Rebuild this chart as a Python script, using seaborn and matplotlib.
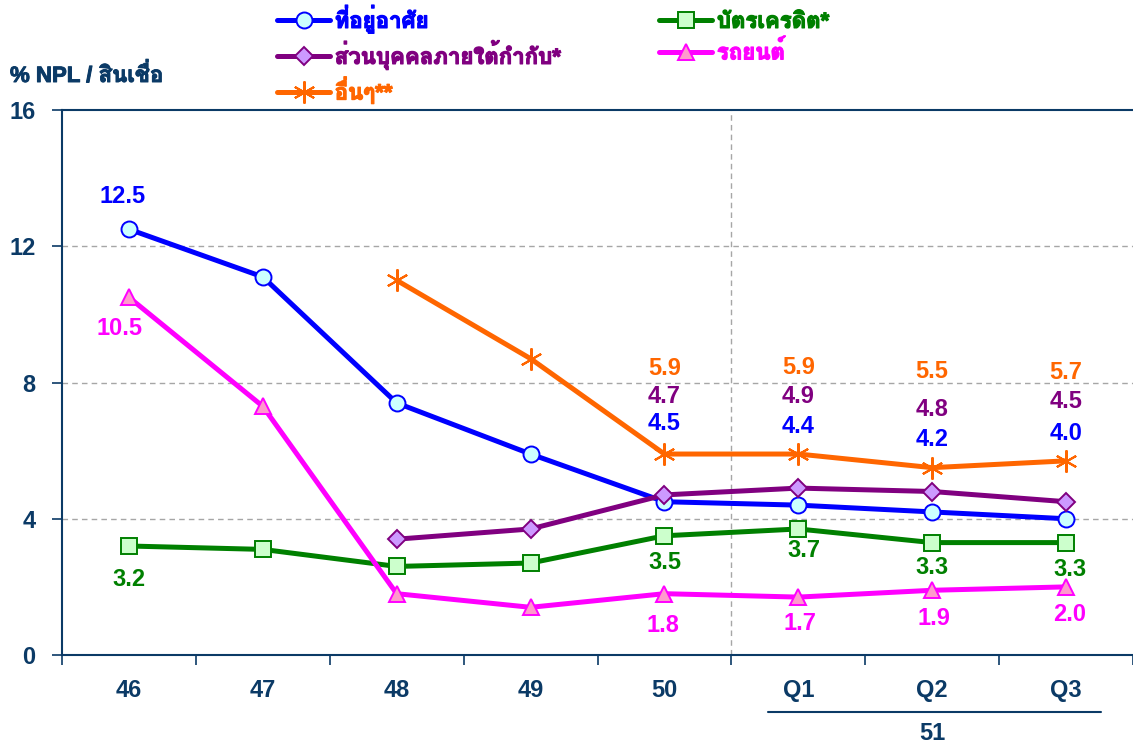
import matplotlib
matplotlib.use("Agg")
import matplotlib.pyplot as plt
import matplotlib.transforms as mtransforms
import matplotlib.patheffects as pe
from matplotlib import font_manager
from matplotlib.ft2font import FT2Font
import numpy as np
import pandas as pd
import seaborn as sns

# ---------------- data ----------------
categories = ["46", "47", "48", "49", "50", "Q1", "Q2", "Q3"]
housing = [12.5, 11.1, 7.4, 5.9, 4.5, 4.4, 4.2, 4.0]
credit_card = [3.2, 3.1, 2.6, 2.7, 3.5, 3.7, 3.3, 3.3]
personal = [np.nan, np.nan, 3.4, 3.7, 4.7, 4.9, 4.8, 4.5]
auto = [10.5, 7.3, 1.8, 1.4, 1.8, 1.7, 1.9, 2.0]
other = [np.nan, np.nan, 11.0, 8.7, 5.9, 5.9, 5.5, 5.7]
y_ticks = [0, 4, 8, 12, 16]
series_names = ["ที่อยู่อาศัย", "บัตรเครดิต*", "ส่วนบุคคลภายใต้กำกับ*", "รถยนต์", "อื่นๆ**"]
year_group_label = "51"
y_title = "% NPL / สินเชื่อ"

# ---------------- font with Thai glyphs (prefer one with a bold face) ----------------
thai_fams = {}
for f in font_manager.fontManager.ttflist:
    try:
        cm = FT2Font(f.fname).get_charmap()
        if 0x0E17 in cm and 0x0E2A in cm:
            w = f.weight if isinstance(f.weight, int) else (700 if "bold" in str(f.weight).lower() else 400)
            thai_fams.setdefault(f.name, set()).add(w)
    except Exception:
        pass
thai_family = None
for name, ws in thai_fams.items():
    if any(w >= 600 for w in ws):
        thai_family = name
        break
if thai_family is None and thai_fams:
    thai_family = next(iter(thai_fams))
sns.set_theme(style="white")
fams = ([thai_family] if thai_family else []) + ["DejaVu Sans"]
plt.rcParams["font.family"] = ["Liberation Sans"] + fams
plt.rcParams["font.weight"] = "bold"

navy = "#0B3A66"

fig = plt.figure(figsize=(11.33, 7.44), dpi=100)
ax = fig.add_axes([62 / 1133, 1 - 655 / 744, 1 - 62 / 1133, (655 - 110) / 744])

xs = np.arange(len(categories))
styles = [
    # name, values, line colour, marker, face, edge
    (series_names[0], housing, "#0000FF", "o", "#CCFFFF", "#0000FF"),
    (series_names[1], credit_card, "#008000", "s", "#CCFFCC", "#008000"),
    (series_names[2], personal, "#800080", "D", "#CC99FF", "#800080"),
    (series_names[3], auto, "#FF00FF", "^", "#FF99CC", "#FF00FF"),
    (series_names[4], other, "#FF6600", (6, 2, 0), "#FF6600", "#FF6600"),
]
sizes = {"o": 11.5, "s": 11, "D": 9.5, "^": 12, (6, 2, 0): 16}
handles = {}
for name, vals, col, mk, fc, ec in styles:
    df = pd.DataFrame({"x": xs, "y": vals})
    sns.lineplot(data=df, x="x", y="y", ax=ax, color=col, linewidth=3.6,
                 marker=mk, markersize=sizes[mk], markerfacecolor=fc,
                 markeredgecolor=ec, markeredgewidth=1.4 if mk != (6, 2, 0) else 1.5,
                 label=name, sort=False, zorder=3)
    handles[name] = ax.get_lines()[-1]

# ---------------- data labels ----------------
# (series values, colour, indices, vertical pixel offsets, horizontal pixel offsets)
label_specs = [
    (housing, "#0000FF", [0, 4, 5, 6, 7], [33, 78, 79, 72, 85], [-6, 0, 0, 0, 0]),
    (personal, "#800080", [4, 5, 6, 7], [98, 92, 82, 100], [0, 0, 0, 0]),
    (other, "#FF6600", [4, 5, 6, 7], [86, 87, 96, 88], [0, 0, 0, 0]),
    (credit_card, "#008000", [0, 4, 5, 6, 7], [-33, -27, -22, -25, -27], [0, 0, 6, 0, 4]),
    (auto, "#FF00FF", [0, 4, 5, 6, 7], [-31, -32, -26, -28, -28], [-9, -2, 2, 2, 4]),
]
for vals, col, idxs, dys, dxs in label_specs:
    for i, dy, dx in zip(idxs, dys, dxs):
        ax.annotate(f"{vals[i]:.1f}", (xs[i], vals[i]), xytext=(dx, dy),
                    textcoords="offset pixels", ha="center", va="center",
                    color=col, fontsize=17, fontweight="bold", zorder=5)

# ---------------- axes styling ----------------
ax.set_xlim(-0.5, len(categories) - 0.5)
ax.set_ylim(0, 16)
ax.set_xticks(xs)
ax.set_xticklabels(categories)
ax.set_xticks(np.arange(-0.5, len(categories), 1.0), minor=True)
ax.tick_params(axis="x", which="major", length=0, pad=17, labelsize=17, labelcolor=navy)
ax.tick_params(axis="x", which="minor", length=7, width=1.2, color=navy, direction="out", bottom=True)
ax.set_yticks(y_ticks)
ax.tick_params(axis="y", length=7, width=1.2, color=navy, direction="out", left=True,
               labelsize=17, labelcolor=navy, pad=12)
for lab in ax.get_xticklabels() + ax.get_yticklabels():
    lab.set_fontweight("bold")
ax.set_xlabel("")
ax.set_ylabel("")
for s in ["left", "bottom", "top"]:
    ax.spines[s].set_color(navy)
    ax.spines[s].set_linewidth(1.5)
ax.spines["right"].set_visible(False)
for yv in y_ticks[1:-1]:
    ax.axhline(yv, color="#A6A6A6", linestyle=(0, (4, 3)), linewidth=1.0, zorder=1)
ax.axvline(4.5, color="#A6A6A6", linestyle=(0, (4, 3)), linewidth=1.0, zorder=1)

# group label for year 51 under Q1-Q3
trans = mtransforms.blended_transform_factory(ax.transData, fig.transFigure)
ax.plot([4.77, 7.26], [1 - 712 / 744] * 2, transform=trans, color=navy, linewidth=1.5, clip_on=False)
ax.text(6, 1 - 733 / 744, year_group_label, transform=trans, ha="center", va="center",
        fontsize=17, fontweight="bold", color=navy)

# y title
ttl = fig.text(10 / 1133, 1 - 75 / 744, y_title, ha="left", va="center", fontsize=16,
               fontweight="bold", color=navy)
ttl.set_path_effects([pe.withStroke(linewidth=0.7, foreground=navy)])

# ---------------- legend ----------------
ax.get_legend().remove()
order = [series_names[0], series_names[2], series_names[4], series_names[1], series_names[3]]
leg = fig.legend([handles[n] for n in order], order, ncol=2, loc="upper left",
                 bbox_to_anchor=(268 / 1133, 1 + 5 / 744), frameon=False,
                 fontsize=16, handlelength=2.4, handletextpad=0.2,
                 columnspacing=4.4, labelspacing=0.3, borderaxespad=0)
name_col = {s[0]: s[2] for s in styles}
for t in leg.get_texts():
    c = name_col[t.get_text()]
    t.set_color(c)
    t.set_fontweight("bold")
    t.set_path_effects([pe.withStroke(linewidth=0.9, foreground=c)])

fig.savefig("out.png", dpi=100)
